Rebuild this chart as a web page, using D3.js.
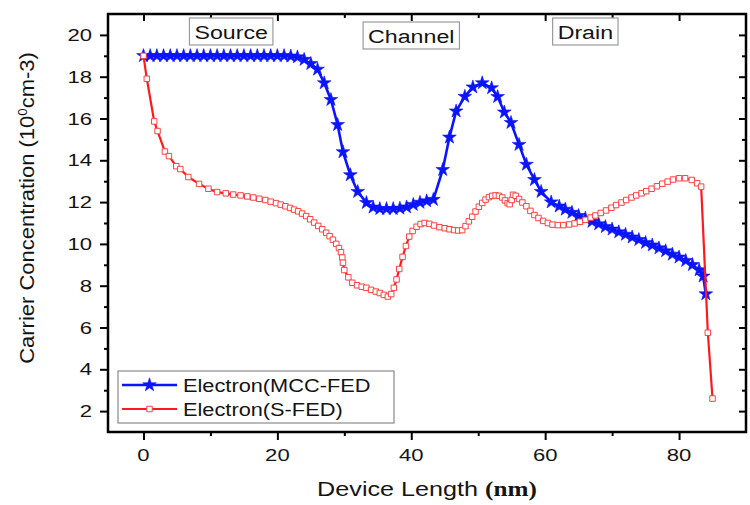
<!DOCTYPE html>
<html>
<head>
<meta charset="utf-8">
<script src="https://cdn.jsdelivr.net/npm/d3@7"></script>
<style>
  html, body { margin: 0; padding: 0; background: #fff; }
  svg { display: block; font-family: "Liberation Sans", Arial, sans-serif; }
</style>
</head>
<body>
<svg id="chart" width="750" height="505"></svg>
<script>
// Electron concentration along the device, MCC-FED vs S-FED
const mccX = [0,1,2,3,4,5,6,7,8,9,10,11,12,13,14,15,16,17,18,19,20,21,22,23,24,25,26,27,28,29,29.8,30.9,32,33.3,34.3,35.3,36.3,37.3,38.3,39.3,40.3,41.3,42.3,43.3,44.7,45.7,46.7,48,49.2,50.6,52,52.9,53.9,54.9,56.1,57.2,58.4,59.4,60.9,62.1,63,64,65,66,67,68,69,70,71,72,73,74,75,76,77,78,79,80,81,82,83,83.6,84];
const mccY = [19,19,19,19,19,19,19,19,19,19,19,19,19,19,19,19,19,19,19,19,19,19,18.98,18.94,18.82,18.62,18.35,17.7,16.9,15.7,14.4,13.3,12.5,11.97,11.75,11.68,11.68,11.68,11.7,11.76,11.88,11.98,12.05,12.12,13.55,15.1,16.35,17.05,17.5,17.7,17.46,17.04,16.3,15.8,14.75,13.8,13.07,12.5,12.0,11.8,11.65,11.5,11.35,11.22,11.07,10.95,10.82,10.7,10.57,10.45,10.32,10.2,10.06,9.94,9.8,9.66,9.5,9.36,9.2,9.0,8.75,8.45,7.6];

const sfedX = [0,0.5,1.6,2.1,3.2,3.8,4.9,5.5,6.7,8.3,9.7,11,12.3,13.4,14.5,15.5,16.4,17.3,18.2,19,19.8,20.5,21.2,21.9,22.5,23.1,23.7,24.3,24.9,25.5,26.1,26.7,27.3,27.8,28.3,28.8,29.2,29.5,29.7,29.8,30,30.6,31.2,31.9,32.6,33.3,34,34.7,35.3,35.9,36.5,37,37.4,37.8,38.2,38.7,39.2,39.7,40.2,40.8,41.4,42,42.7,43.4,44.2,45,45.7,46.4,47,47.6,48.1,48.6,49.1,49.6,50.1,50.6,51.1,51.6,52.1,52.6,53.1,53.6,54,54.4,54.7,55,55.2,55.6,56.1,56.6,57.2,57.8,58.4,59,59.7,60.4,61.1,61.9,62.7,63.6,64.4,65.2,66,66.8,67.5,68.3,69.1,69.9,70.6,71.4,72.1,72.9,73.6,74.4,75.1,75.9,76.7,77.5,78.3,79.1,80,80.9,81.9,82.7,83.3,84.3,85];
const sfedY = [19,17.9,15.86,15.4,14.42,14.2,13.72,13.58,13.2,12.87,12.64,12.48,12.42,12.36,12.32,12.27,12.22,12.16,12.1,12.02,11.95,11.88,11.8,11.72,11.64,11.56,11.45,11.33,11.18,11.02,10.86,10.7,10.53,10.37,10.2,10.0,9.8,9.6,9.35,9.1,8.75,8.4,8.14,8.02,7.95,7.9,7.8,7.72,7.65,7.56,7.48,7.6,7.9,8.3,8.8,9.38,9.9,10.35,10.62,10.82,10.95,11.0,10.96,10.88,10.8,10.75,10.7,10.66,10.64,10.66,10.85,11.08,11.3,11.55,11.78,11.96,12.12,12.24,12.3,12.32,12.3,12.22,12.08,11.95,11.9,12.1,12.35,12.3,12.15,11.98,11.8,11.58,11.38,11.24,11.1,11.0,10.92,10.9,10.9,10.93,10.98,11.06,11.15,11.26,11.36,11.48,11.6,11.73,11.86,11.98,12.1,12.22,12.32,12.42,12.52,12.64,12.76,12.88,12.98,13.08,13.14,13.14,13.06,12.9,12.74,5.75,2.6];

const xMajorTicks = [0, 20, 40, 60, 80];
const xMinorTicks = [10, 30, 50, 70];
const yMajorTicks = [2, 4, 6, 8, 10, 12, 14, 16, 18, 20];
const yMinorTicks = [3, 5, 7, 9, 11, 13, 15, 17, 19];

const regionNames = ["Source", "Channel", "Drain"];
const regionCenters = [13.1, 40, 66];

const seriesNames = ["Electron(MCC-FED", "Electron(S-FED)"];

const svg = d3.select("#chart");
const L = 108, R = 746, T = 14, B = 432;
const WIDE = 1.24;            // text is drawn slightly widened
const ink = "#141414";

const x = d3.scaleLinear().domain([-5.3, 90]).range([L, R]);
const y = d3.scaleLinear().domain([1, 21]).range([B, T]);

const blue = "#0a14ff", red = "#ff1a1a";

// widened text anchored at (px, py)
function wideText(parent, px, py, str, size, anchor, sx) {
  const g = parent.append("g").attr("transform", `translate(${px},${py}) scale(${sx || WIDE},1)`);
  return g.append("text").attr("text-anchor", anchor || "start")
    .attr("font-size", size).attr("fill", ink).text(str);
}

function tickStyle(g) {
  g.selectAll(".domain").remove();
  g.selectAll(".tick line").attr("stroke", "#000").attr("stroke-width", 2);
  g.selectAll(".tick text").remove();
}

// bottom / left axes with outward ticks
svg.append("g").attr("transform", `translate(0,${B})`)
  .call(d3.axisBottom(x).tickValues(xMajorTicks).tickSize(8)).call(tickStyle);
svg.append("g").attr("transform", `translate(0,${B})`)
  .call(d3.axisBottom(x).tickValues(xMinorTicks).tickSize(4)).call(tickStyle);
svg.append("g").attr("transform", `translate(${L},0)`)
  .call(d3.axisLeft(y).tickValues(yMajorTicks).tickSize(8)).call(tickStyle);
svg.append("g").attr("transform", `translate(${L},0)`)
  .call(d3.axisLeft(y).tickValues(yMinorTicks).tickSize(4)).call(tickStyle);
// top / right mirror axes with inward ticks
svg.append("g").attr("transform", `translate(0,${T})`)
  .call(d3.axisTop(x).tickValues(xMajorTicks).tickSize(-7)).call(tickStyle);
svg.append("g").attr("transform", `translate(0,${T})`)
  .call(d3.axisTop(x).tickValues(xMinorTicks).tickSize(-4)).call(tickStyle);
svg.append("g").attr("transform", `translate(${R},0)`)
  .call(d3.axisRight(y).tickValues(yMajorTicks).tickSize(-7)).call(tickStyle);
svg.append("g").attr("transform", `translate(${R},0)`)
  .call(d3.axisRight(y).tickValues(yMinorTicks).tickSize(-4)).call(tickStyle);

// tick labels
const tickLabels = svg.append("g");
xMajorTicks.forEach(v => wideText(tickLabels, x(v), 461, d3.format("d")(v), 17, "middle", 1.3));
yMajorTicks.forEach(v => wideText(tickLabels, 92, y(v) + 6, d3.format("d")(v), 17, "end", 1.3));

// plot frame
svg.append("rect").attr("x", L).attr("y", T).attr("width", R - L).attr("height", B - T)
  .attr("fill", "none").attr("stroke", "#000").attr("stroke-width", 2.5);

// region annotations
const regionTop = [18, 22, 18];
regionNames.forEach((name, i) => {
  const g = svg.append("g");
  const cx = x(regionCenters[i]);
  const t = wideText(g, cx, regionTop[i] + 21, name, 19, "middle", 1.22);
  const w = t.node().getBBox().width * 1.22;
  g.insert("rect", "g").attr("x", cx - w / 2 - 5).attr("y", regionTop[i])
    .attr("width", w + 10).attr("height", 27)
    .attr("fill", "#fff").attr("stroke", "#9a9a9a").attr("stroke-width", 1.2);
});

const mcc = mccX.map((v, i) => [v, mccY[i]]);
const sfed = sfedX.map((v, i) => [v, sfedY[i]]);
const line = d3.line().x(d => x(d[0])).y(d => y(d[1]));
const star = d3.symbol().type(d3.symbolStar).size(58);
const square = d3.symbol().type(d3.symbolSquare).size(30);

// MCC-FED series
svg.append("path").datum(mcc).attr("d", line)
  .attr("fill", "none").attr("stroke", blue).attr("stroke-width", 2.6);
svg.append("g").selectAll("path").data(mcc).join("path")
  .attr("transform", d => `translate(${x(d[0])},${y(d[1])})`)
  .attr("d", star).attr("fill", blue).attr("stroke", blue).attr("stroke-width", 0.6);

// S-FED series
svg.append("path").datum(sfed).attr("d", line)
  .attr("fill", "none").attr("stroke", red).attr("stroke-width", 2.2);
svg.append("g").selectAll("path").data(sfed).join("path")
  .attr("transform", d => `translate(${x(d[0])},${y(d[1])})`)
  .attr("d", square).attr("fill", "#fff").attr("stroke", "#ff4040").attr("stroke-width", 1);

// legend
const lg = svg.append("g");
lg.append("rect").attr("x", 118).attr("y", 371).attr("width", 276).attr("height", 52)
  .attr("fill", "#fff").attr("stroke", "#8a8a8a").attr("stroke-width", 1.2);
const rows = [
  { name: seriesNames[0], color: blue, sym: star, fill: blue, mstroke: blue, lw: 2.6 },
  { name: seriesNames[1], color: red, sym: square, fill: "#fff", mstroke: "#ff4040", lw: 2.2 }
];
rows.forEach((r, i) => {
  const cy = 385 + i * 24;
  lg.append("line").attr("x1", 122).attr("x2", 177).attr("y1", cy).attr("y2", cy)
    .attr("stroke", r.color).attr("stroke-width", r.lw);
  lg.append("path").attr("transform", `translate(149.5,${cy})`).attr("d", r.sym)
    .attr("fill", r.fill).attr("stroke", r.mstroke).attr("stroke-width", i === 0 ? 0.6 : 1);
  wideText(lg, 183, cy + 7, r.name, 18, "start", 1.21);
});

// axis titles
const xg = svg.append("g").attr("transform", "translate(427,496) scale(1.26,1)");
const xt = xg.append("text").attr("text-anchor", "middle").attr("font-size", 20).attr("fill", ink);
xt.append("tspan").text("Device Length ");
xt.append("tspan").attr("font-family", "'Liberation Serif', 'Times New Roman', serif")
  .attr("font-weight", "bold").attr("font-size", 20).text("(nm)");

const yg = svg.append("g").attr("transform", "translate(34,208) rotate(-90) scale(1.1,1)");
const yt = yg.append("text").attr("text-anchor", "middle").attr("font-size", 20).attr("fill", ink);
yt.append("tspan").text("Carrier Concentration (10");
yt.append("tspan").attr("font-size", 12).attr("dy", -7).text("0");
yt.append("tspan").attr("dy", 7).text("cm-3)");
</script>
</body>
</html>
